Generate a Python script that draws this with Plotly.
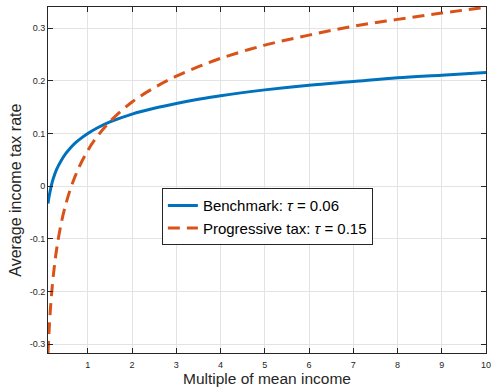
import plotly.graph_objects as go

income = [0.1, 0.12, 0.15, 0.2, 0.25, 0.3, 0.4, 0.5, 0.6, 0.7, 0.8, 1, 1.2, 1.5, 2, 2.5, 3, 3.5, 4, 5, 6, 7, 8, 9, 10]
benchmark = [-0.033, -0.022, -0.009, 0.009, 0.022, 0.033, 0.049, 0.062, 0.072, 0.081, 0.088, 0.100, 0.110, 0.122,
             0.137, 0.148, 0.157, 0.165, 0.172, 0.183, 0.192, 0.199, 0.206, 0.211, 0.216]
progressive = [-0.317, -0.282, -0.239, -0.187, -0.148, -0.117, -0.070, -0.035, -0.007, 0.016, 0.036, 0.068, 0.093, 0.123,
               0.160, 0.187, 0.209, 0.227, 0.243, 0.268, 0.287, 0.304, 0.317, 0.329, 0.340]
x_ticks = [1, 2, 3, 4, 5, 6, 7, 8, 9, 10]
y_ticks = [-0.3, -0.2, -0.1, 0, 0.1, 0.2, 0.3]
y_labels = ["-0.3", "-0.2", "-0.1", "0", "0.1", "0.2", "0.3"]

fig = go.Figure()
fig.add_trace(go.Scatter(x=income, y=benchmark, mode="lines",
                         line=dict(color="#0072BD", width=3, shape="spline"),
                         name="Benchmark: <i>τ</i> = 0.06"))
fig.add_trace(go.Scatter(x=income, y=progressive, mode="lines",
                         line=dict(color="#D95319", width=3, shape="spline", dash="12px,7px"),
                         name="Progressive tax: <i>τ</i> = 0.15"))

axis_common = dict(showline=True, linecolor="#262626", linewidth=1, mirror="ticks",
                   ticks="inside", ticklen=5, tickcolor="#262626",
                   showgrid=True, gridcolor="#e3e3e3", gridwidth=1, zeroline=False,
                   tickfont=dict(family="Liberation Sans, Arial", size=9, color="#262626"))

fig.update_xaxes(range=[0.1, 10], tickvals=x_ticks, ticklabelstandoff=3,
                 title=dict(text="Multiple of mean income", standoff=4,
                            font=dict(family="Liberation Sans, Arial", size=15.5, color="#262626")),
                 **axis_common)
fig.update_yaxes(range=[-0.317, 0.3405], tickvals=y_ticks, ticktext=y_labels,
                 **axis_common)

fig.add_annotation(text="Average income tax rate", xref="paper", yref="paper",
                   x=-0.0745, y=0.47, xanchor="center", yanchor="middle",
                   textangle=-90, showarrow=False,
                   font=dict(family="Liberation Sans, Arial", size=16, color="#262626"))

fig.update_layout(
    width=497, height=391,
    margin=dict(l=48, r=6, t=7, b=35),
    plot_bgcolor="white", paper_bgcolor="white",
    legend=dict(x=0.26, y=0.476, xanchor="left", yanchor="top",
                bgcolor="white", bordercolor="#262626", borderwidth=1,
                font=dict(family="Liberation Sans, Arial", size=15, color="black"),
                tracegroupgap=0, itemwidth=30),
)

fig.write_html("out.html")
